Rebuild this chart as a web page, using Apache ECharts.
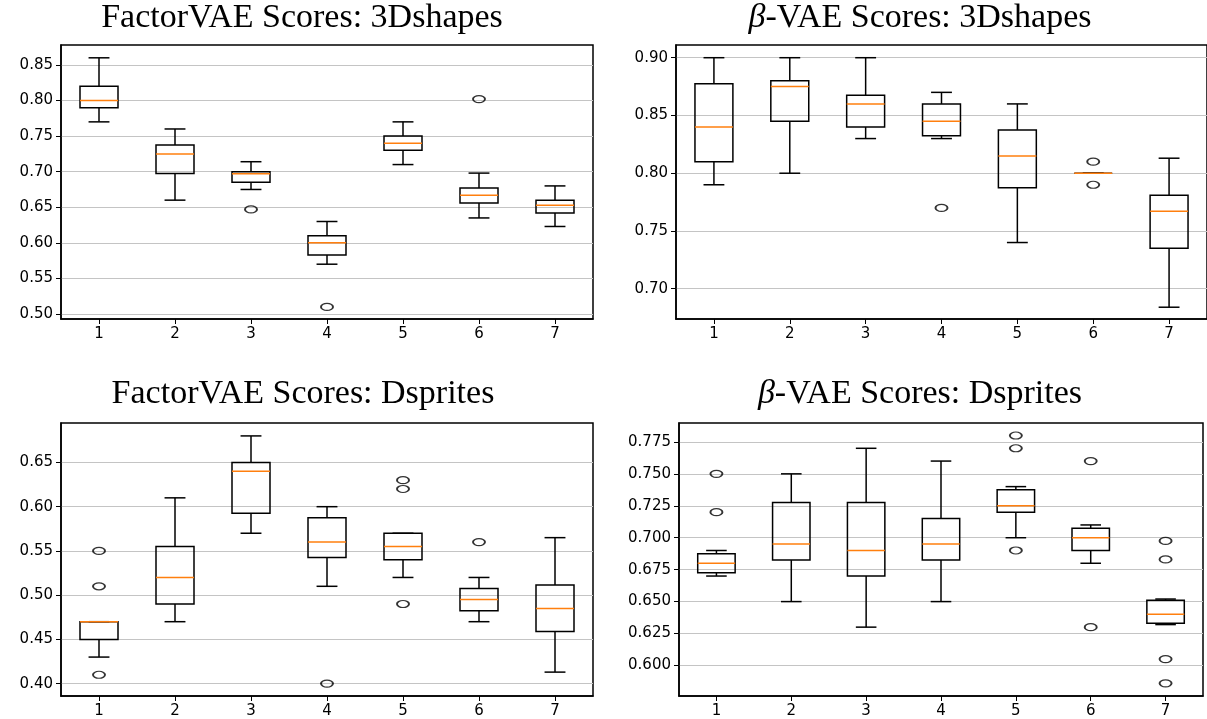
<!DOCTYPE html>
<html>
<head>
<meta charset="utf-8">
<script src="https://cdn.jsdelivr.net/npm/echarts@6/dist/echarts.min.js"></script>
<style>
html,body{margin:0;padding:0;background:#fff;}
#chart{width:1207px;height:719px;}
</style>
</head>
<body>
<div id="chart"></div>
<script>
// ---------- data ----------
const categories = ['1', '2', '3', '4', '5', '6', '7'];

// box stats per category: [lowWhisker, Q1, median, Q3, highWhisker]
const factorVae3dshapesBoxes = [
  [0.77, 0.79, 0.80, 0.82, 0.86],
  [0.66, 0.6975, 0.725, 0.7375, 0.76],
  [0.675, 0.685, 0.697, 0.70, 0.714],
  [0.57, 0.583, 0.60, 0.61, 0.63],
  [0.71, 0.73, 0.74, 0.75, 0.77],
  [0.635, 0.656, 0.667, 0.677, 0.698],
  [0.623, 0.642, 0.653, 0.66, 0.68]
];
const factorVae3dshapesOutliers = [[2, 0.647], [3, 0.51], [5, 0.802]];

const betaVae3dshapesBoxes = [
  [0.79, 0.81, 0.84, 0.8775, 0.90],
  [0.80, 0.845, 0.875, 0.88, 0.90],
  [0.83, 0.84, 0.86, 0.8675, 0.90],
  [0.83, 0.8325, 0.845, 0.86, 0.87],
  [0.74, 0.7875, 0.815, 0.8375, 0.86],
  [0.80, 0.80, 0.80, 0.80, 0.80],
  [0.684, 0.735, 0.767, 0.781, 0.813]
];
const betaVae3dshapesOutliers = [[3, 0.77], [5, 0.81], [5, 0.79]];

const factorVaeDspritesBoxes = [
  [0.43, 0.45, 0.47, 0.47, 0.47],
  [0.47, 0.49, 0.52, 0.555, 0.61],
  [0.57, 0.5925, 0.64, 0.65, 0.68],
  [0.51, 0.5425, 0.56, 0.5875, 0.60],
  [0.52, 0.54, 0.555, 0.57, 0.57],
  [0.47, 0.4825, 0.495, 0.5075, 0.52],
  [0.413, 0.459, 0.485, 0.5115, 0.565]
];
const factorVaeDspritesOutliers = [[0, 0.55], [0, 0.51], [0, 0.41], [3, 0.40], [4, 0.63], [4, 0.62], [4, 0.49], [5, 0.56]];

const betaVaeDspritesBoxes = [
  [0.67, 0.6725, 0.68, 0.6875, 0.69],
  [0.65, 0.6825, 0.695, 0.7275, 0.75],
  [0.63, 0.67, 0.69, 0.7275, 0.77],
  [0.65, 0.6825, 0.695, 0.715, 0.76],
  [0.70, 0.72, 0.725, 0.7375, 0.74],
  [0.68, 0.69, 0.70, 0.7075, 0.71],
  [0.632, 0.633, 0.64, 0.651, 0.652]
];
const betaVaeDspritesOutliers = [[0, 0.75], [0, 0.72], [4, 0.78], [4, 0.77], [4, 0.69], [5, 0.76], [5, 0.63], [6, 0.6975], [6, 0.683], [6, 0.605], [6, 0.586]];

// y tick labels
const ticks3dshapesFactor = [0.50, 0.55, 0.60, 0.65, 0.70, 0.75, 0.80, 0.85];
const ticks3dshapesBeta = [0.70, 0.75, 0.80, 0.85, 0.90];
const ticksDspritesFactor = [0.40, 0.45, 0.50, 0.55, 0.60, 0.65];
const ticksDspritesBeta = [0.600, 0.625, 0.650, 0.675, 0.700, 0.725, 0.750, 0.775];

const titles = ['FactorVAE Scores: 3Dshapes', '{b|β}-VAE Scores: 3Dshapes', 'FactorVAE Scores: Dsprites', '{b|β}-VAE Scores: Dsprites'];

// ---------- chart ----------
const panels = [
  {boxes: factorVae3dshapesBoxes, outliers: factorVae3dshapesOutliers, ticks: ticks3dshapesFactor, dec: 2, min: 0.493, max: 0.878,
   grid: {left: 61, top: 45, width: 532, height: 274}, title: {x: 302, y: 1}},
  {boxes: betaVae3dshapesBoxes, outliers: betaVae3dshapesOutliers, ticks: ticks3dshapesBeta, dec: 2, min: 0.6738, max: 0.911,
   grid: {left: 676, top: 45, width: 532, height: 274}, title: {x: 920, y: 1}},
  {boxes: factorVaeDspritesBoxes, outliers: factorVaeDspritesOutliers, ticks: ticksDspritesFactor, dec: 2, min: 0.386, max: 0.6946,
   grid: {left: 61, top: 423, width: 532, height: 274}, title: {x: 303, y: 377}},
  {boxes: betaVaeDspritesBoxes, outliers: betaVaeDspritesOutliers, ticks: ticksDspritesBeta, dec: 3, min: 0.5761, max: 0.7898,
   grid: {left: 679, top: 423, width: 524, height: 274}, title: {x: 920, y: 377}}
];

const tickFont = {fontFamily: 'DejaVu Sans', fontSize: 15, color: '#000'};

function renderBox(params, api) {
  const x = api.value(0);
  const low = api.coord([x, api.value(1)]);
  const q1 = api.coord([x, api.value(2)]);
  const med = api.coord([x, api.value(3)]);
  const q3 = api.coord([x, api.value(4)]);
  const high = api.coord([x, api.value(5)]);
  const bw = api.size([1, 0])[0] * 0.5;
  const cw = bw * 0.55;
  const cx = low[0];
  const ls = {stroke: '#000', lineWidth: 1.5, fill: null};
  return {
    type: 'group',
    children: [
      {type: 'line', shape: {x1: cx, y1: q1[1], x2: cx, y2: low[1]}, style: ls},
      {type: 'line', shape: {x1: cx, y1: q3[1], x2: cx, y2: high[1]}, style: ls},
      {type: 'line', shape: {x1: cx - cw / 2, y1: low[1], x2: cx + cw / 2, y2: low[1]}, style: ls},
      {type: 'line', shape: {x1: cx - cw / 2, y1: high[1], x2: cx + cw / 2, y2: high[1]}, style: ls},
      {type: 'rect', shape: {x: cx - bw / 2, y: q3[1], width: bw, height: q1[1] - q3[1]}, style: ls},
      {type: 'line', shape: {x1: cx - bw / 2, y1: med[1], x2: cx + bw / 2, y2: med[1]}, style: {stroke: '#ff7f0e', lineWidth: 1.5}}
    ]
  };
}

const option = {
  animation: false,
  backgroundColor: '#fff',
  title: [],
  grid: [],
  xAxis: [],
  yAxis: [],
  series: []
};

panels.forEach((p, i) => {
  option.title.push({
    text: titles[i],
    left: p.title.x,
    top: p.title.y,
    textAlign: 'center',
    padding: 0,
    textStyle: {
      fontFamily: 'Liberation Serif', fontSize: 34, fontWeight: 'normal', color: '#000',
      rich: {b: {fontFamily: 'Liberation Serif', fontSize: 34, fontStyle: 'italic', color: '#000'}}
    }
  });
  option.grid.push(Object.assign({show: true, borderColor: '#000', borderWidth: 1.5, backgroundColor: 'transparent'}, p.grid));
  option.xAxis.push({
    type: 'category', gridIndex: i, data: categories, boundaryGap: true,
    axisLine: {show: true, lineStyle: {color: '#000', width: 1.5}},
    axisTick: {show: true, alignWithLabel: true, length: 5, lineStyle: {color: '#000', width: 1}},
    axisLabel: Object.assign({margin: 8}, tickFont),
    splitLine: {show: false}
  });
  option.yAxis.push({
    type: 'value', gridIndex: i, min: p.min, max: p.max,
    axisLine: {show: true, lineStyle: {color: '#000', width: 1.5}},
    axisTick: {show: true, length: 5, customValues: p.ticks, lineStyle: {color: '#000', width: 1}},
    axisLabel: Object.assign({margin: 8, customValues: p.ticks, formatter: v => Number(v).toFixed(p.dec)}, tickFont),
    splitLine: {show: true, lineStyle: {color: '#c4c4c4', width: 1.2}}
  });
  option.series.push({
    type: 'custom', xAxisIndex: i, yAxisIndex: i,
    renderItem: renderBox,
    encode: {x: 0, y: [1, 2, 3, 4, 5]},
    data: p.boxes.map((b, k) => [k].concat(b)),
    z: 3
  });
  option.series.push({
    type: 'scatter', xAxisIndex: i, yAxisIndex: i,
    symbol: 'path://M0,5 A10,5 0 1 1 20,5 A10,5 0 1 1 0,5 Z',
    symbolKeepAspect: false,
    symbolSize: [12, 7],
    itemStyle: {color: 'transparent', borderColor: '#000', borderWidth: 1.5},
    data: p.outliers,
    z: 4
  });
});

const chart = echarts.init(document.getElementById('chart'), null, {renderer: 'canvas'});
chart.setOption(option);
</script>
</body>
</html>
